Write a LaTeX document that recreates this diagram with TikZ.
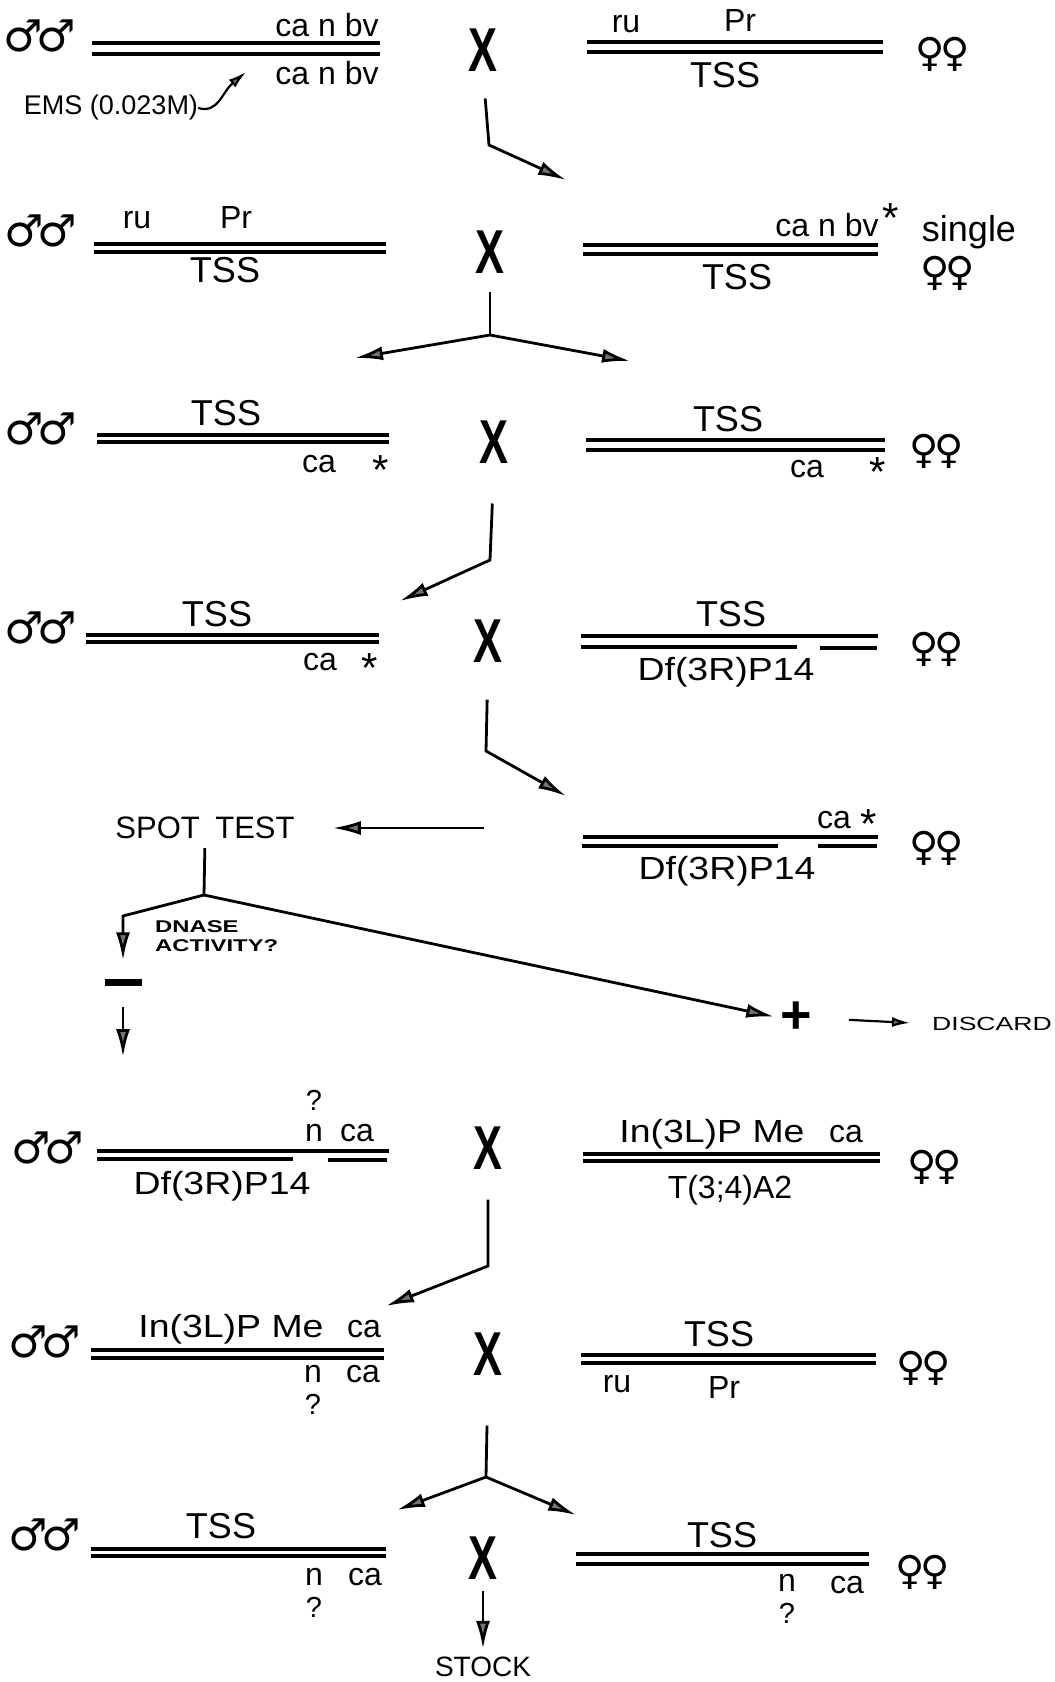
\documentclass[tikz,border=0pt]{standalone}
\usepackage{fontspec}
\setmainfont{Liberation Sans}
\newfontfamily\symfont{DejaVu Sans}
\usepackage{graphicx}
\usetikzlibrary{arrows.meta,positioning,calc}

\newcommand{\males}{{\symfont\char"2642\kern-0.15em\char"2642}}
\newcommand{\females}{{\symfont\char"2640\kern-0.1em\char"2640}}
\newcommand{\crossX}{\scalebox{0.7}[1]{\bfseries X}}
\newcommand{\widetext}[1]{\scalebox{1.4}[1]{#1}}
\newcommand{\chromname}[1]{\scalebox{1.17}[1]{#1}}

\begin{document}
\begin{tikzpicture}[x=1pt, y=-1pt,
  every node/.style={inner sep=0pt},
  gene/.style={font=\fontsize{32}{32}\selectfont},
  ask/.style={font=\fontsize{29}{29}\selectfont},
  star/.style={font=\fontsize{42}{42}\selectfont},
  tss/.style={font=\fontsize{36}{36}\selectfont},
  sexm/.style={font=\fontsize{44}{44}\selectfont},
  sexf/.style={font=\fontsize{40}{40}\selectfont},
  mate/.style={font=\fontsize{62}{62}\selectfont},
  note/.style={font=\fontsize{27}{27}\selectfont},
  tiny/.style={font=\fontsize{17}{19}\selectfont\bfseries, align=left},
  chrom/.style={line width=3.6pt},
  line/.style={line width=2.8pt},
  arr/.style={line width=2.8pt, -{Latex[length=28pt, width=14pt, fill=black!55]}},
  arrs/.style={line width=2.2pt, -{Latex[length=18pt, width=10pt, fill=black!55]}}
]
\useasboundingbox (0,0) rectangle (1055,1682);

% cross 1: mutagenised males x balancer females
\node[sexm] (m1) at (40,36) {\males};
\draw[chrom] (92,43) -- (380,43);
\draw[chrom] (92,54) -- (380,54);
\node[gene] (g1a) at (327,25) {ca n bv};
\node[gene] (g1b) at (327,73) {ca n bv};
\node[note] (ems) at (111,108) {EMS (0.023M)};
\coordinate (hit) at (246,72);
\draw[arrs] (ems.east) .. controls (218,114) and (222,92) .. (hit);
\node[mate] (x1) at (483,50) {\crossX};
\draw[chrom] (587,42) -- (883,42);
\draw[chrom] (587,52) -- (883,52);
\node[gene] (ru1) at (626,24) {ru};
\node[gene] (pr1) at (740,20) {Pr};
\node[tss] (tss1) at (725,75) {TSS};
\node[sexf] (f1) at (943,54) {\females};
\coordinate (k1) at (489,145);
\coordinate (e1) at (566,180);
\draw[arr, shorten <=27pt] (x1.south) -- (k1) -- (e1);

% cross 2
\node[sexm] (m2) at (41,231) {\males};
\node[gene] (ru2) at (137,220) {ru};
\node[gene] (pr2) at (236,217) {Pr};
\draw[chrom] (94,244) -- (386,244);
\draw[chrom] (94,252) -- (386,252);
\node[tss] (tss2a) at (225,270) {TSS};
\node[mate] (x2) at (490,252) {\crossX};
\draw[chrom] (583,245) -- (878,245);
\draw[chrom] (583,254) -- (878,254);
\node[gene] (g2) at (827,225) {ca n bv};
\node[star] (st2) at (891,218) {*};
\node[tss] (tss2b) at (737,277) {TSS};
\node[font=\fontsize{36}{36}\selectfont] (single) at (969,232) {single};
\node[sexf] (f2) at (948,273) {\females};
\coordinate (k2) at (490,335);
\coordinate (e2l) at (355,358);
\coordinate (e2r) at (630,361);
\draw[line, shorten <=18pt] (x2.south) -- (k2);
\draw[arr] (k2) -- (e2l);
\draw[arr] (k2) -- (e2r);

% cross 3
\node[sexm] (m3) at (41,429) {\males};
\node[tss] (tss3a) at (226,413) {TSS};
\draw[chrom] (97,435) -- (389,435);
\draw[chrom] (97,442) -- (389,442);
\node[gene] (ca3a) at (319,464) {ca};
\node[star] (st3a) at (381,470) {*};
\node[mate] (x3) at (494,442) {\crossX};
\node[tss] (tss3b) at (728,419) {TSS};
\draw[chrom] (586,440) -- (885,440);
\draw[chrom] (586,450) -- (885,450);
\node[gene] (ca3b) at (807,469) {ca};
\node[star] (st3b) at (878,472) {*};
\node[sexf] (f3) at (937,451) {\females};
\coordinate (k3) at (490,560);
\coordinate (e3) at (400,601);
\draw[arr, shorten <=40pt] (x3.south) -- (k3) -- (e3);

% cross 4
\node[sexm] (m4) at (41,628) {\males};
\node[tss] (tss4a) at (217,614) {TSS};
\draw[chrom] (86,635) -- (379,635);
\draw[chrom] (86,642) -- (379,642);
\node[gene] (ca4) at (320,662) {ca};
\node[star] (st4) at (370,668) {*};
\node[mate] (x4) at (488,641) {\crossX};
\node[tss] (tss4b) at (731,614) {TSS};
\draw[chrom] (581,636) -- (878,636);
\draw[chrom] (581,647) -- (797,647);
\draw[chrom] (820,648) -- (877,648);
\node[gene] (df4) at (726,672) {\chromname{Df(3R)P14}};
\node[sexf] (f4) at (937,649) {\females};
\coordinate (k4) at (486,751);
\coordinate (e4) at (566,796);
\draw[arr, shorten <=37pt] (x4.south) -- (k4) -- (e4);

% spot test of the single females
\node[font=\fontsize{31}{31}\selectfont] (spot) at (205,828) {SPOT\enspace TEST};
\node[gene] (ca5) at (834,820) {ca};
\node[star] (st5) at (869,824) {*};
\draw[chrom] (583,837) -- (878,837);
\draw[chrom] (582,846) -- (778,846);
\draw[chrom] (818,846) -- (877,846);
\node[gene] (df5) at (727,871) {\chromname{Df(3R)P14}};
\node[sexf] (f5) at (937,848) {\females};
\coordinate (s5) at (484,828);
\draw[arr, shorten >=38pt] (s5) -- (spot.east);
\coordinate (b5) at (204,895);
\coordinate (c5) at (123,916);
\node[tiny, anchor=north west] (dnase) at (155,920) {\widetext{DNASE}\\\widetext{ACTIVITY?}};
\node[fill=black, minimum width=37pt, minimum height=7pt] (minus) at (123,982) {};
\node[font=\fontsize{54}{54}\selectfont\bfseries] (plus) at (796,1018) {+};
\node[font=\fontsize{19}{19}\selectfont] (discard) at (992,1024) {\widetext{DISCARD}};
\coordinate (k5) at (123,1057);
\draw[line, shorten <=9pt] (spot.south) -- (b5);
\draw[arr, shorten >=18pt] (b5) -- (c5) -- (minus.north);
\draw[arr, shorten <=21pt] (minus.south) -- (k5);
\draw[arr, shorten >=6pt] (b5) -- (plus.west);
\draw[arrs, shorten <=37pt, shorten >=22pt] (plus.east) -- (discard.west);

% cross 6
\node[sexm] (m6) at (48,1148) {\males};
\draw[chrom] (97,1151) -- (389,1151);
\draw[chrom] (97,1159) -- (293,1159);
\draw[chrom] (328,1160) -- (387,1160);
\node[ask] (q6) at (314,1100) {?};
\node[gene] (n6) at (314,1133) {n};
\node[gene] (ca6) at (357,1133) {ca};
\node[gene] (df6) at (222,1186) {\chromname{Df(3R)P14}};
\node[mate] (x6) at (488,1148) {\crossX};
\node[gene] (in6) at (712,1134) {\chromname{In(3L)P Me}};
\node[gene] (ca6b) at (846,1134) {ca};
\draw[chrom] (583,1154) -- (880,1154);
\draw[chrom] (583,1161) -- (880,1161);
\node[gene] (t6) at (730,1190) {T(3;4)A2};
\node[sexf] (f6) at (935,1167) {\females};
\coordinate (k6) at (488,1266);
\coordinate (e6) at (386,1306);
\draw[arr, shorten <=30pt] (x6.south) -- (k6) -- (e6);

% cross 7
\node[sexm] (m7) at (45,1342) {\males};
\node[gene] (in7) at (231,1329) {\chromname{In(3L)P Me}};
\node[gene] (ca7a) at (364,1329) {ca};
\draw[chrom] (91,1350) -- (384,1350);
\draw[chrom] (91,1358) -- (384,1358);
\node[gene] (n7) at (313,1374) {n};
\node[gene] (ca7b) at (363,1374) {ca};
\node[ask] (q7) at (313,1404) {?};
\node[mate] (x7) at (488,1354) {\crossX};
\node[tss] (tss7) at (719,1334) {TSS};
\draw[chrom] (581,1355) -- (876,1355);
\draw[chrom] (581,1363) -- (876,1363);
\node[gene] (ru7) at (617,1384) {ru};
\node[gene] (pr7) at (724,1387) {Pr};
\node[sexf] (f7) at (924,1368) {\females};
\coordinate (k7) at (486,1477);
\coordinate (e7l) at (397,1510);
\coordinate (e7r) at (576,1515);
\draw[line, shorten <=50pt] (x7.south) -- (k7);
\draw[arr] (k7) -- (e7l);
\draw[arr] (k7) -- (e7r);

% cross 8: stock
\node[sexm] (m8) at (45,1535) {\males};
\node[tss] (tss8a) at (221,1526) {TSS};
\draw[chrom] (91,1549) -- (386,1549);
\draw[chrom] (91,1556) -- (386,1556);
\node[gene] (n8a) at (314,1577) {n};
\node[gene] (ca8a) at (365,1577) {ca};
\node[ask] (q8a) at (314,1607) {?};
\node[mate] (x8) at (483,1558) {\crossX};
\node[tss] (tss8b) at (722,1535) {TSS};
\draw[chrom] (576,1554) -- (869,1554);
\draw[chrom] (576,1564) -- (869,1564);
\node[gene] (n8b) at (787,1583) {n};
\node[gene] (ca8b) at (847,1585) {ca};
\node[ask] (q8b) at (787,1613) {?};
\node[sexf] (f8) at (923,1572) {\females};
\node[font=\fontsize{28}{28}\selectfont] (stock) at (483,1667) {STOCK};
\draw[arr, shorten <=11pt, shorten >=8pt] (x8.south) -- (stock.north);

\end{tikzpicture}
\end{document}
